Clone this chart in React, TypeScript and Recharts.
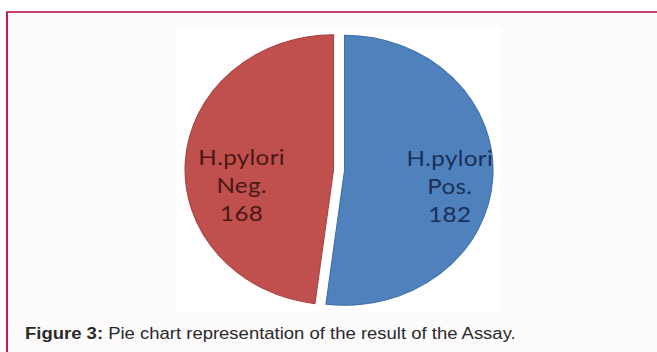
import React from "react";
import { PieChart, Pie, Cell } from "recharts";

// Assay results: H. pylori positive vs negative counts
const categories = ["Pos.", "Neg."];
const counts = [182, 168];
const sliceColors = ["#4f81bd", "#c0504d"];
const edgeColors = ["#3f6ea8", "#a8423f"];
const labelColors = ["#1a3058", "#4a1815"];
const labelPrefix = "H.pylori";
const caption = " Pie chart representation of the result of the Assay.";
const captionLead = "Figure 3:";

const slices = categories.map((name, i) => ({ name, value: counts[i] }));

const RAD = Math.PI / 180;
// horizontal placement of each label, as a fraction of the radius
const labelReach = [0.71, 0.62];

function makeLabel(visibleIndex: number) {
  return (props: any) => {
    const { cx, cy, midAngle, outerRadius, index, name, value } = props;
    if (index !== visibleIndex) return null;
    const x = cx + outerRadius * labelReach[index] * Math.cos(-midAngle * RAD);
    const y = cy + 15;
    const clipId = `slice-clip-${index}`;
    return (
      <g>
        <defs>
          <clipPath id={clipId}>
            <circle cx={cx} cy={cy} r={outerRadius} />
          </clipPath>
        </defs>
        <text
          x={x}
          y={y}
          textAnchor="middle"
          fill={labelColors[index]}
          fontFamily="Lato, 'Open Sans', sans-serif"
          fontSize={22}
          letterSpacing={0.3}
          clipPath={`url(#${clipId})`}
        >
          <tspan x={x} dy={-28} dominantBaseline="central">{labelPrefix}</tspan>
          <tspan x={x} dy={28} dominantBaseline="central">{name}</tspan>
          <tspan x={x} dy={28} dominantBaseline="central">{value}</tspan>
        </text>
      </g>
    );
  };
}

const CX = 147.3;
const CY = 143;
const R = 135;
const EXPLODE = 5;

export default function App() {
  return (
    <div
      style={{
        position: "fixed",
        left: 0,
        top: 0,
        width: 657,
        height: 352,
        background: "#ffffff",
        overflow: "hidden",
      }}
    >
      <div
        style={{
          position: "absolute",
          left: 6,
          top: 11,
          width: 700,
          height: 400,
          borderTop: "2px solid #c8416a",
          borderLeft: "2px solid #c01d4b",
          background: "#fcfafa",
        }}
      />
      <div
        style={{
          position: "absolute",
          left: 177,
          top: 27,
          width: 294,
          height: 285,
          background: "#ffffff",
          transform: "scaleX(1.1)",
          transformOrigin: "0 0",
        }}
      >
        <PieChart width={294} height={285} margin={{ top: 0, right: 0, bottom: 0, left: 0 }}>
          <Pie
            data={slices}
            dataKey="value"
            nameKey="name"
            cx={CX + EXPLODE}
            cy={CY + 0.3}
            outerRadius={R}
            startAngle={90}
            endAngle={-270}
            isAnimationActive={false}
            labelLine={false}
            label={makeLabel(0)}
          >
            {slices.map((s, i) => (
              <Cell
                key={s.name}
                fill={i === 0 ? sliceColors[0] : "transparent"}
                stroke={i === 0 ? edgeColors[0] : "none"}
                strokeWidth={1}
              />
            ))}
          </Pie>
          <Pie
            data={slices}
            dataKey="value"
            nameKey="name"
            cx={CX - EXPLODE}
            cy={CY - 0.3}
            outerRadius={R}
            startAngle={90}
            endAngle={-270}
            isAnimationActive={false}
            labelLine={false}
            label={makeLabel(1)}
          >
            {slices.map((s, i) => (
              <Cell
                key={s.name}
                fill={i === 1 ? sliceColors[1] : "transparent"}
                stroke={i === 1 ? edgeColors[1] : "none"}
                strokeWidth={1}
              />
            ))}
          </Pie>
        </PieChart>
      </div>
      <div
        style={{
          position: "absolute",
          left: 25,
          top: 325,
          whiteSpace: "nowrap",
          fontFamily: "'Liberation Sans', Arial, sans-serif",
          fontSize: 16,
          lineHeight: "18px",
          color: "#2a2a2a",
          transform: "scaleX(1.155)",
          transformOrigin: "0 0",
        }}
      >
        <b>{captionLead}</b>
        {caption}
      </div>
    </div>
  );
}
